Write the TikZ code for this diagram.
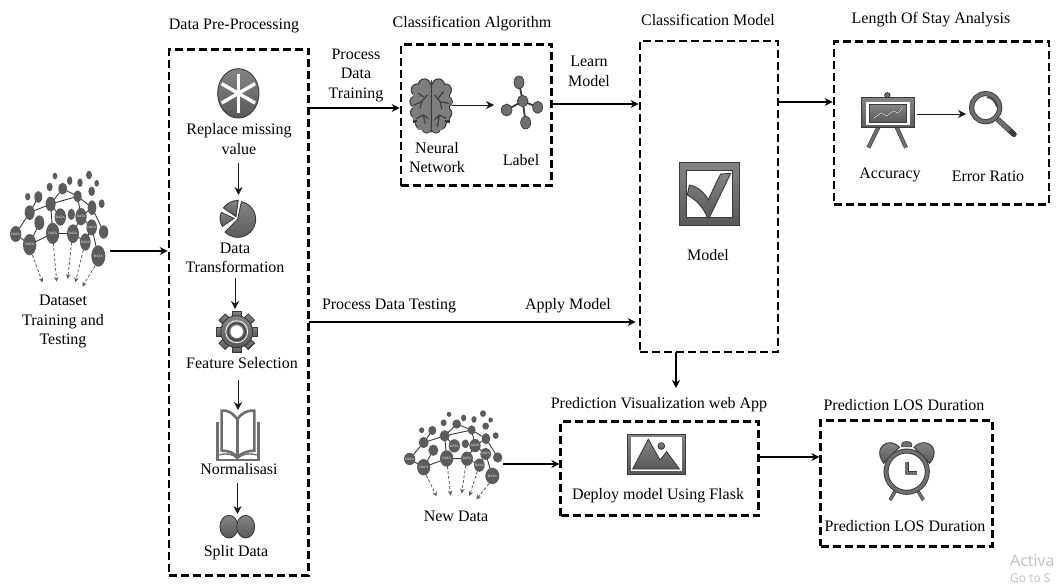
\documentclass[tikz,border=0pt]{standalone}
\usepackage{fontspec}
\setmainfont{Liberation Serif}
\newfontfamily\wmfont{Open Sans}
\usetikzlibrary{arrows.meta,calc}
\definecolor{icon}{HTML}{6F6F6F}
\definecolor{icond}{HTML}{3A3A3A}
\definecolor{cloud}{HTML}{5C5C5C}
\tikzset{
  dbox/.style={draw=black,line width=2.7pt,dash pattern=on 8pt off 4pt,inner sep=0pt},
  lbl/.style={font=\fontsize{16}{19.5}\selectfont,align=center,inner sep=0pt,text=black},
  mainarr/.style={draw=black,line width=1.9pt,-{Stealth[length=8pt,width=8pt]}},
  subarr/.style={draw=black!90,line width=.9pt,-{Stealth[length=8pt,width=8pt]}},
  ifill/.style={draw=icond,line width=.9pt,top color=icon!85,bottom color=icon!80!black},
  wm/.style={inner sep=0pt,text=black!25,anchor=west},
}
\newcommand{\datacloud}[3]{%
 \begin{scope}[shift={(#1,#2)},xscale=1/3,yscale=#3/3]
  \draw[icond,line width=.9pt]
   (47,312)--(89,248)--(115,201) (89,248)--(152,222)--(233,199)--(276,233)--(311,306)
   (152,222)--(188,176)--(233,199)--(243,260)--(275,292)--(295,378)
   (152,222)--(158,310) (152,222)--(181,261) (276,233)--(243,260)
   (47,312)--(89,344)--(158,310)--(219,311)--(243,260) (89,344)--(118,278)
   (219,311)--(256,336)--(275,292);
  \foreach \x/\y/\a/\b in {165/138/7/10,267/135/9/13,209/152/8/13,240/158/8/13,290/160/7/10,149/171/9/13,188/176/13/18,275/184/10/14,83/200/8/11,115/201/12/18,233/199/12/18,305/221/9/13,152/222/15/22,276/233/13/22,89/248/15/22,181/261/17/26,214/253/11/17,243/260/17/26,118/278/15/22,275/292/16/24,47/312/17/24,158/310/20/32,219/311/18/28,311/306/14/20,89/344/20/32,256/336/16/26,295/378/21/32}
   {\fill[cloud] (\x,\y) ellipse[x radius=\a,y radius=\b];}
  \foreach \x/\y in {181/261,243/260,275/292,47/312,158/310,219/311,89/344,256/336,295/378}
   {\node[inner sep=0pt,text=white,font=\fontsize{3.4}{3.4}\selectfont] at (\x,\y) {DATA};}
  \foreach \p/\q/\r/\s in {97/375/128/458,160/340/170/455,215/337/203/447,250/360/226/457,285/408/247/470}
   {\draw[icon!85!black,line width=.8pt,densely dashed,-{Stealth[length=5pt,width=4.5pt]}] (\p,\q)--(\r,\s);}
 \end{scope}}
\begin{document}
\begin{tikzpicture}[x=1pt,y=-1pt]
\useasboundingbox (0,0) rectangle (1057,586);
% boxes
\node[dbox,minimum width=139.5pt,minimum height=526.5pt] (pre) at (238.75,312.5) {};
\node[dbox,minimum width=150.5pt,minimum height=141.5pt] (algo) at (476.25,115) {};
\node[dbox,minimum width=138pt,minimum height=311pt] (model) at (709,196.5) {};
\node[dbox,minimum width=215pt,minimum height=162.5pt] (stay) at (941.5,123) {};
\node[dbox,minimum width=198pt,minimum height=94pt] (web) at (659.7,468.7) {};
\node[dbox,minimum width=172pt,minimum height=125.5pt] (dur) at (906.7,483.4) {};
% titles
\node[lbl] (t1) at (234,26) {Data Pre-Processing};
\node[lbl] (t2) at (472,24) {Classification Algorithm};
\node[lbl] (t3) at (708,20) {Classification Model};
\node[lbl] (t4) at (931,20) {Length Of Stay Analysis};
\node[lbl] (t5) at (659,405) {Prediction Visualization web App};
\node[lbl] (t6) at (904,405) {Prediction LOS Duration};
% labels
\node[lbl] (lset) at (63,321.5) {Dataset\\Training and\\Testing};
\node[lbl] (lrep) at (239,139) {Replace missing\\value};
\node[lbl] (ltra) at (235,258) {Data\\Transformation};
\node[lbl] (lfea) at (242,363) {Feature Selection};
\node[lbl] (lnor) at (239,469) {Normalisasi};
\node[lbl] (lspl) at (236,553) {Split Data};
\node[lbl] (lpro) at (356,75) {Process\\Data\\Training};
\node[lbl] (llea) at (589,71.5) {Learn\\Model};
\node[lbl] (ltes) at (389,306) {Process Data Testing};
\node[lbl] (lapp) at (568,306) {Apply Model};
\node[lbl] (lneu) at (437,157.5) {Neural\\Network};
\node[lbl] (llab) at (521,160) {Label};
\node[lbl] (lmod) at (708,255) {Model};
\node[lbl] (lacc) at (890,175) {Accuracy};
\node[lbl] (lerr) at (988,176) {Error Ratio};
\node[lbl] (lnew) at (456,516) {New Data};
\node[lbl] (ldep) at (658,496) {Deploy model Using Flask};
\node[lbl] (lpre) at (905,526) {Prediction LOS Duration};
\node[wm,font=\fontsize{16}{16}\wmfont\selectfont] (wm1) at (1010,561) {Activa};
\node[wm,font=\fontsize{12}{12}\wmfont\selectfont] (wm2) at (1010,578) {Go to S};
% clouds
\datacloud{0}{130}{1}
\datacloud{394}{378.9}{.77}
% asterisk
\begin{scope}[shift={(160,40)},scale=1/3]
 \path[ifill] (235,160) ellipse[x radius=62,y radius=74];
 \foreach \a in {90,30,150}{\draw[white,line width=3.4pt] ($(235,160)+(\a:58)$)--($(235,160)+(\a+180:58)$);}
\end{scope}
% pie
\begin{scope}[shift={(160,40)},scale=1/3]
 \path[ifill] (233,538) -- ++(-78:54) arc[start angle=-78,end angle=135,radius=54] -- cycle;
 \path[ifill] (222,535) -- ++(145:42) arc[start angle=145,end angle=205,radius=42] -- cycle;
 \path[ifill] (228,530) -- ++(-145:46) arc[start angle=-145,end angle=-88,radius=52] -- cycle;
\end{scope}
% gear
\begin{scope}[shift={(236.7,331.7)},scale=1/3]
 \foreach \a in {0,45,...,315}{\path[ifill,rotate=\a] (-13,-62) rectangle (13,-38);}
 \path[ifill] (0,0) circle[radius=48];
 \draw[white,line width=.8pt] (0,0) circle[radius=33];
 \draw[icond,line width=1pt] (0,0) circle[radius=26];
 \fill[white] (0,0) circle[radius=19];
\end{scope}
% book
\begin{scope}[shift={(160,320)},scale=1/3]
 \draw[icon,line width=2.4pt] (172,305)--(172,420)--(295,420)--(295,305);
 \draw[icon,line width=2.6pt,fill=white] (232,298) .. controls (215,275) and (200,270) .. (185,272) -- (185,392) .. controls (205,392) and (222,398) .. (232,412) .. controls (245,398) and (265,392) .. (283,392) -- (283,272) .. controls (265,270) and (245,278) .. (232,298) -- cycle;
 \draw[icon,line width=2.6pt] (232,298)--(232,412);
 \draw[icon,line width=1.4pt] (178,405) .. controls (200,398) and (220,402) .. (232,416) .. controls (245,402) and (268,398) .. (290,405);
\end{scope}
% split data
\begin{scope}[shift={(160,320)},scale=1/3]
 \path[ifill] (207,620) ellipse[x radius=27,y radius=34];
 \path[ifill] (257,620) ellipse[x radius=27,y radius=34];
\end{scope}
% brain
\begin{scope}[shift={(390,40)},scale=1/3]
 \foreach \x/\y/\r in {103/135/17,82/150/17,76/185/15,79/218/16,95/250/17,110/265/13,145/135/17,166/150/17,172/185/14,168/220/16,150/250/17,138/265/13}
  {\fill[icond] (\x,\y) circle[radius=\r+3];}
 \fill[icond] (70,150) rectangle (180,250);
 \foreach \x/\y/\r in {103/135/17,82/150/17,76/185/15,79/218/16,95/250/17,110/265/13,145/135/17,166/150/17,172/185/14,168/220/16,150/250/17,138/265/13}
  {\fill[icon!90] (\x,\y) circle[radius=\r];}
 \fill[icon!90] (84,135) rectangle (122,270);
 \fill[icon!90] (126,135) rectangle (160,270);
 \fill[icon!90] (68,160) rectangle (122,240);
 \fill[icon!90] (126,160) rectangle (178,240);
 \draw[icond,line width=1.1pt,line cap=round] (124,122)--(124,276)
  (72,195)--(95,185)--(112,165) (85,160)--(100,170) (95,185)--(90,205) (80,235)--(100,225)--(115,235) (100,225)--(105,250)
  (175,190)--(150,185)--(134,165) (150,185)--(155,205) (160,155)--(145,175) (168,235)--(148,225)--(134,240) (148,225)--(142,260);
\end{scope}
% label icon
\begin{scope}[shift={(390,40)},scale=1/3]
 \draw[icond,line width=1.8pt] (398,183)--(387,127) (398,183)--(350,210) (398,183)--(443,202) (398,183)--(407,248);
 \foreach \x/\y/\a/\b in {398/183/16/17,387/127/15/19,350/210/16/18,443/202/15/18,407/248/15/19}
  {\path[draw=icond,line width=.7pt,fill=icon] (\x,\y) ellipse[x radius=\a,y radius=\b];}
\end{scope}
% check box
\begin{scope}[shift={(630,150)},scale=1/3]
 \path[ifill] (147,38) rectangle (328,225);
 \fill[white] (170,60) rectangle (307,203);
 \draw[icond,line width=.7pt] (170,60) rectangle (307,203);
 \path[ifill] (172,135) -- (178,105) .. controls (205,110) and (225,130) .. (235,150) .. controls (248,120) and (260,95) .. (272,72) -- (302,70) -- (238,203) -- (232,203) .. controls (222,175) and (200,150) .. (172,135) -- cycle;
\end{scope}
% board
\begin{scope}[shift={(830,40)},scale=1/3]
 \draw[icond,line width=.9pt,fill=icon] (172,166) circle[radius=8];
 \draw[icond,line width=4pt] (145,262)--(115,323) (200,262)--(228,323);
 \draw[icon,line width=2.8pt] (145,262)--(115,323) (200,262)--(228,323);
 \path[ifill] (93,172) rectangle (252,262);
 \fill[white] (107,185) rectangle (240,255);
 \path[ifill] (117,193) rectangle (230,248);
 \draw[icond,line width=1.5pt] (130,235)--(155,218)--(170,228)--(190,212)--(205,220)--(220,200);
 \draw[white,line width=.6pt] (130,235)--(155,218)--(170,228)--(190,212)--(205,220)--(220,200);
\end{scope}
% magnifier
\begin{scope}[shift={(830,40)},scale=1/3]
 \draw[icond,line width=5.5pt,line cap=round] (505,240)--(552,283);
 \draw[icon,line width=4.2pt,line cap=round] (505,240)--(535,268);
 \draw[icond,line width=5.2pt] (467,203) circle[radius=42];
 \draw[icon,line width=3.4pt] (467,203) circle[radius=42];
 \fill[white] (467,203) circle[radius=33];
 \draw[icond,line width=1.4pt] (470,172) .. controls (485,172) and (497,185) .. (500,200);
\end{scope}
% picture icon
\begin{scope}[shift={(400,400)},scale=1/3]
 \path[ifill] (682,102) rectangle (855,223);
 \fill[white] (692,110) rectangle (845,214);
 \path[ifill] (698,207) -- (745,118) -- (780,180) -- (800,155) -- (838,207) -- cycle;
 \path[ifill] (784,138) circle[radius=10];
\end{scope}
% clock
\begin{scope}[shift={(810,410)},scale=1/3]
 \path[draw=icond,line width=.7pt,fill=icon] (275,102) .. controls (275,92) and (305,92) .. (305,102) -- (305,110) -- (275,110) -- cycle;
 \draw[icond,line width=3.4pt] (258,240)--(240,270) (322,240)--(340,270);
 \draw[icon,line width=2.2pt] (258,240)--(240,270) (322,240)--(340,270);
 \path[ifill] (221,160) .. controls (198,130) and (210,100) .. (240,98) .. controls (252,98) and (262,105) .. (268,112) -- cycle;
 \path[ifill] (359,160) .. controls (384,130) and (372,100) .. (342,98) .. controls (330,98) and (318,105) .. (312,112) -- cycle;
 \draw[icond,line width=5pt,fill=white] (290,185) circle[radius=62];
 \draw[icon,line width=3.2pt] (290,185) circle[radius=62];
 \draw[icond,line width=4pt,line join=round] (290,155)--(290,190)--(322,190);
 \draw[icon,line width=2.6pt,line join=round] (290,155)--(290,190)--(322,190);
\end{scope}
% connector end points
\coordinate (a1) at (110,251);
\coordinate (a2) at (309,108);
\coordinate (a3) at (552,104);
\coordinate (a4) at (778,102);
\coordinate (a5) at (309,322);
\coordinate (a6) at (676,352);
\coordinate (a7) at (503,464);
\coordinate (a8) at (759,457);
\coordinate (a9) at (676,388);
\draw[mainarr] (a1) -- (a1 -| pre.west);
\draw[mainarr] (a2) -- (a2 -| algo.west);
\draw[mainarr] (a3) -- (a3 -| model.west);
\draw[mainarr] (a4) -- (a4 -| stay.west);
\draw[mainarr,shorten >=3pt] (a5) -- (a5 -| model.west);
\draw[mainarr] (a6) -- (a9);
\draw[mainarr] (a7) -- (a7 -| web.west);
\draw[mainarr] (a8) -- (a8 -| dur.west);
\coordinate (s1) at (238.5,163); \coordinate (e1) at (238.5,195);
\coordinate (s2) at (235,278); \coordinate (e2) at (235,309);
\coordinate (s3) at (238,380); \coordinate (e3) at (238,410);
\coordinate (s4) at (237.5,483); \coordinate (e4) at (237.5,514);
\coordinate (s5) at (452,105); \coordinate (e5) at (494,105);
\coordinate (s6) at (917,114); \coordinate (e6) at (966,114);
\draw[subarr] (s1)--(e1);
\draw[subarr] (s2)--(e2);
\draw[subarr] (s3)--(e3);
\draw[subarr] (s4)--(e4);
\draw[subarr] (s5)--(e5);
\draw[subarr] (s6)--(e6);
\end{tikzpicture}
\end{document}
